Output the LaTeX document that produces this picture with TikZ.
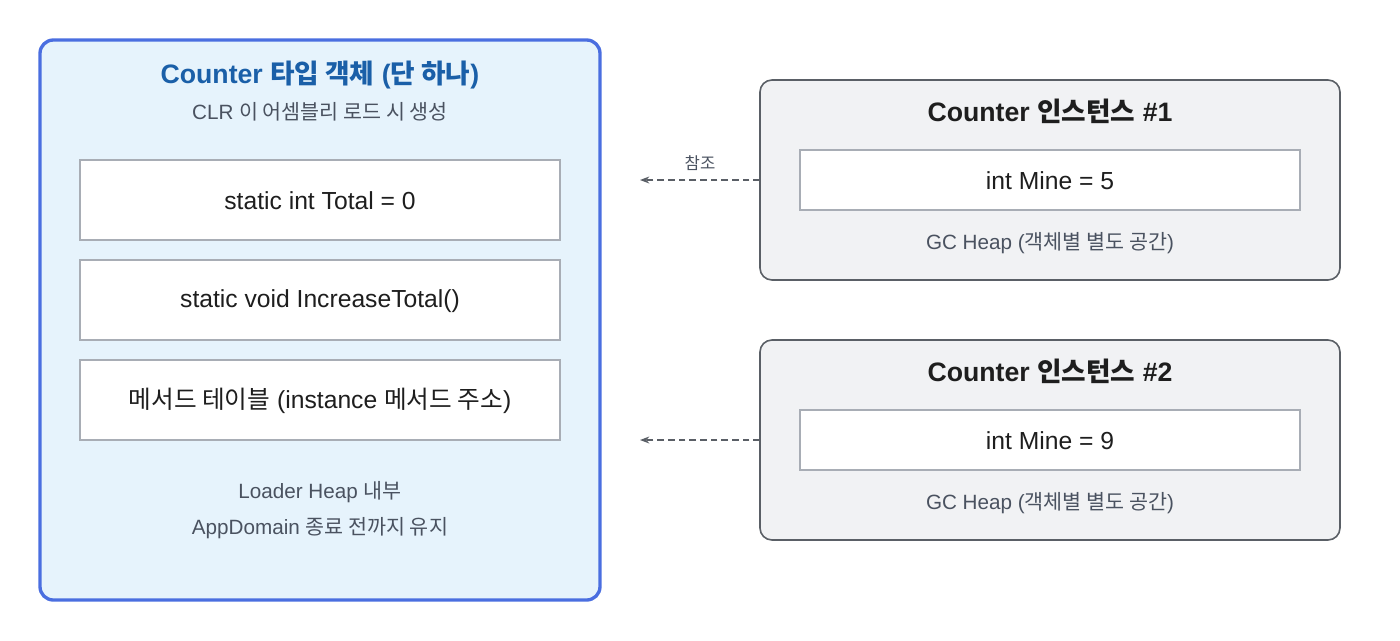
\documentclass[tikz,border=0pt]{standalone}
\usepackage{fontspec}
\setmainfont{Liberation Sans}
\newfontfamily\kr{Noto Sans CJK KR}
\newcommand{\K}[1]{{\kr #1}}
\usetikzlibrary{arrows.meta}
\definecolor{bluebd}{HTML}{4A6EE0}
\definecolor{bluefill}{HTML}{E6F3FC}
\definecolor{bluetxt}{HTML}{1A5FA8}
\definecolor{graytxt}{HTML}{4A5260}
\definecolor{grayfill}{HTML}{F1F2F4}
\definecolor{graybd}{HTML}{5A5F66}
\definecolor{innerbd}{HTML}{A8ADB5}
\definecolor{dark}{HTML}{1E1E1E}
\begin{document}
\begin{tikzpicture}[x=0.75pt,y=-0.75pt,
  inner/.style={draw=innerbd,fill=white,line width=1pt},
  body/.style={font=\fontsize{18.5}{22}\selectfont,text=dark},
  small/.style={font=\fontsize{15.5}{18}\selectfont,text=graytxt},
  ttl/.style={font=\bfseries\fontsize{20}{24}\selectfont},
  refarrow/.style={draw=graybd,dash pattern=on 5pt off 3pt,line width=1pt,-{Stealth[length=7pt]}}]
\useasboundingbox (0,0) rectangle (1400,640);
\draw[draw=bluebd,fill=bluefill,line width=2.5pt,rounded corners=10pt] (40,40) rectangle (600,600);
\node[ttl,text=bluetxt] (lt) at (320,75) {Counter \K{타입 객체} (\K{단 하나})};
\node[small] (ls) at (320,112) {CLR \K{이 어셈블리 로드 시 생성}};
\draw[inner] (80,160) rectangle (560,240);
\node[body] (f1) at (320,201) {static int Total = 0};
\draw[inner] (80,260) rectangle (560,340);
\node[body] (f2) at (320,301) {static void IncreaseTotal()};
\draw[inner] (80,360) rectangle (560,440);
\node[body] (f3) at (320,401) {\K{메서드 테이블} (instance \K{메서드 주소})};
\node[small] (l1) at (320,492) {Loader Heap \K{내부}};
\node[small] (l2) at (320,528) {AppDomain \K{종료 전까지 유지}};
\foreach \y/\n/\v in {80/1/5,340/2/9}{
  \draw[draw=graybd,fill=grayfill,line width=1.2pt,rounded corners=9pt] (760,\y) rectangle (1340,\y+200);
  \node[ttl,text=dark] (t\n) at (1050,\y+31) {Counter \K{인스턴스} \#\n};
  \draw[inner] (800,\y+70) rectangle (1300,\y+130);
  \node[body] (m\n) at (1050,\y+101) {int Mine = \v};
  \node[small] (g\n) at (1050,\y+163) {GC Heap (\K{객체별 별도 공간})};
  \coordinate (s\n) at (760,\y+100);
  \coordinate (e\n) at (640,\y+100);
  \draw[refarrow] (s\n) -- (e\n);
}
\node[small,font=\kr\fontsize{12.5}{15}\selectfont] (rl) at (700,163) {참조};
\end{tikzpicture}
\end{document}
